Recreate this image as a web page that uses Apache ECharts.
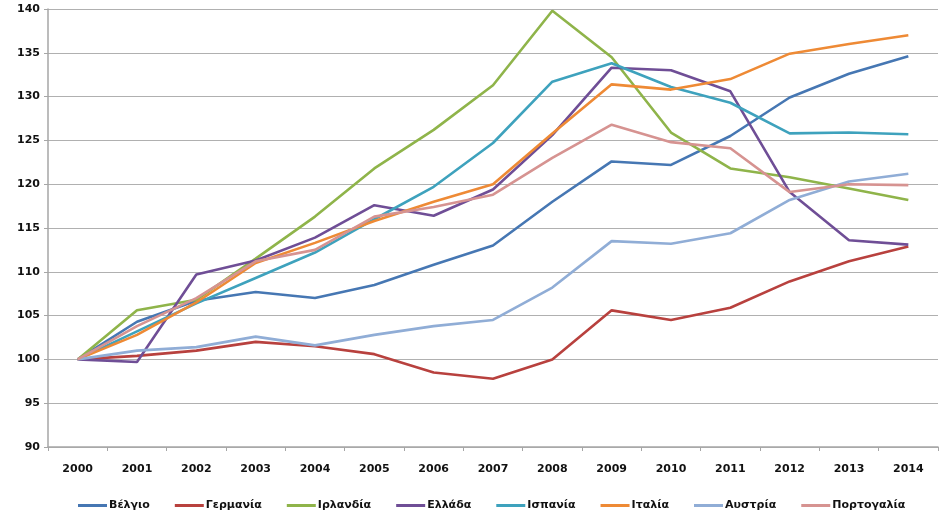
<!DOCTYPE html>
<html><head><meta charset="utf-8">
<script src="https://cdn.jsdelivr.net/npm/echarts@6/dist/echarts.min.js"></script>
<style>html,body{margin:0;padding:0;background:#fff}#c{width:950px;height:518px}</style>
</head><body><div id="c"></div>
<script>
const years = ['2000','2001','2002','2003','2004','2005','2006','2007','2008','2009','2010','2011','2012','2013','2014'];
const names = ['Βέλγιο','Γερμανία','Ιρλανδία','Ελλάδα','Ισπανία','Ιταλία','Αυστρία','Πορτογαλία'];
const belgio     = [100,104.3,106.7,107.7,107.0,108.5,110.8,113.0,118.0,122.6,122.2,125.5,129.9,132.6,134.6];
const germania   = [100,100.4,101.0,102.0,101.5,100.6,98.5,97.8,100.0,105.6,104.5,105.9,108.9,111.2,112.9];
const irlandia   = [100,105.6,106.8,111.5,116.3,121.8,126.2,131.3,139.8,134.5,125.9,121.8,120.8,119.5,118.2];
const ellada     = [100,99.7,109.7,111.3,113.9,117.6,116.4,119.4,125.6,133.3,133.0,130.6,119.1,113.6,113.1];
const ispania    = [100,103.2,106.4,109.3,112.2,116.0,119.7,124.7,131.7,133.8,131.1,129.3,125.8,125.9,125.7];
const italia     = [100,102.8,106.5,111.0,113.3,115.8,118.0,120.0,125.8,131.4,130.8,132.0,134.9,136.0,137.0];
const austria    = [100,101.0,101.4,102.6,101.6,102.8,103.8,104.5,108.2,113.5,113.2,114.4,118.2,120.3,121.2];
const portogalia = [100,103.8,107.0,111.2,112.5,116.3,117.4,118.8,123.0,126.8,124.8,124.1,119.1,120.0,119.9];
const seriesData = [belgio,germania,irlandia,ellada,ispania,italia,austria,portogalia];
const colors = ['#4677B3','#B8413E','#8FB44A','#6F4E96','#3EA2BD','#EE8A35','#90ADD6','#D69391'];

const chart = echarts.init(document.getElementById('c'));
chart.setOption({
  animation:false,
  color: colors,
  grid:{left:48,right:12,top:9,bottom:71},
  legend:{
    top:495, left:73, itemWidth:29, itemHeight:3, itemGap:25,
    icon:'rect',
    textStyle:{fontFamily:'DejaVu Sans',fontWeight:'bold',fontSize:11,color:'#111',padding:[0,0,0,-3]},
    data:names
  },
  xAxis:{
    type:'category', data:years, boundaryGap:true,
    axisLine:{lineStyle:{color:'#a6a6a6',width:1.5}},
    axisTick:{show:true,length:4,lineStyle:{color:'#a6a6a6'}},
    axisLabel:{fontFamily:'DejaVu Sans',fontWeight:'bold',fontSize:11,color:'#111',margin:17}
  },
  yAxis:{
    type:'value', min:90, max:140, interval:5,
    axisLine:{show:true,lineStyle:{color:'#a6a6a6',width:1.5}},
    axisTick:{show:true,length:4,lineStyle:{color:'#a6a6a6'}},
    splitLine:{lineStyle:{color:'#b0b0b0',width:1.2}},
    axisLabel:{fontFamily:'DejaVu Sans',fontWeight:'bold',fontSize:11,color:'#111',margin:8}
  },
  series: names.map((n,i)=>({
    name:n, type:'line', data:seriesData[i], showSymbol:false, symbol:'none',
    lineStyle:{width:2.6}
  }))
});
</script></body></html>
